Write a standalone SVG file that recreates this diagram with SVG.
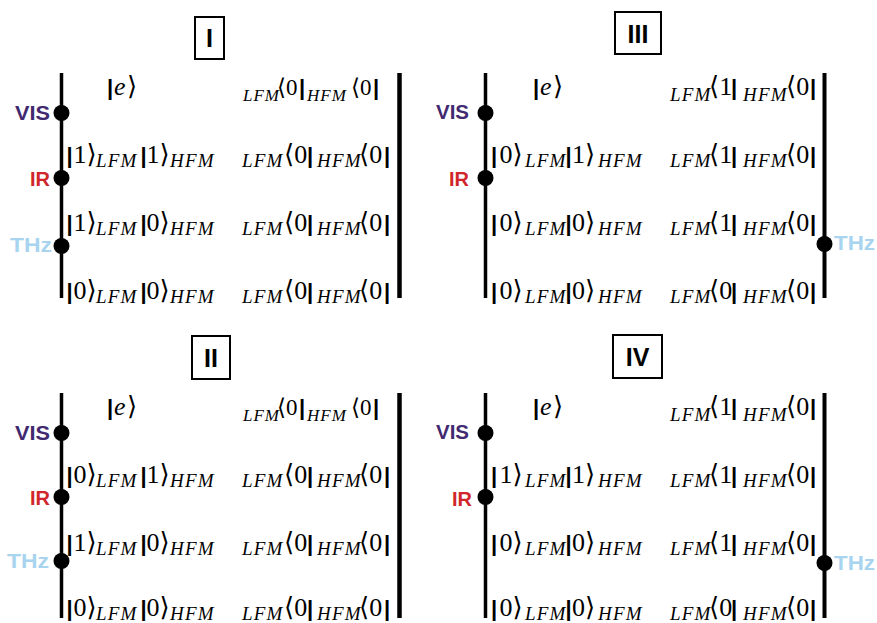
<svg xmlns="http://www.w3.org/2000/svg" width="877" height="623" viewBox="0 0 877 623">
<style>
.bg{fill:#fff}
.ln{stroke:#000;stroke-width:3.5;fill:none}
.lnr{stroke:#000;stroke-width:4.5;fill:none}
.lnt{stroke:#000;stroke-width:4;fill:none}
.dot{fill:#000}
.box{fill:none;stroke:#000;stroke-width:2}
.ttl{font-family:"Liberation Sans",Arial,sans-serif;font-weight:bold;font-size:25px;text-anchor:middle;fill:#000}
.m{font-family:"Liberation Serif","DejaVu Serif",serif;font-size:26px;fill:#000}
.m1{font-size:23px}
.s{font-style:italic;font-size:19px;letter-spacing:1.2px}
.s1{font-style:italic;font-size:17px;letter-spacing:1px}
.i{font-style:italic}
.b{font-family:"Liberation Sans",Arial,sans-serif;font-weight:bold;font-size:22px}
.lbl{font-family:"Liberation Sans",Arial,sans-serif;font-weight:bold;font-size:20px}
.vis{fill:#412a6f}
.ir{fill:#d0262c}
.thz{fill:#a9d4ef}
</style>
<rect class="bg" x="0" y="0" width="877" height="623"/>

<g id="connectors">
  <line class="ln" x1="61.5" y1="73" x2="61.5" y2="298"/>
  <line class="lnr" x1="399.5" y1="73" x2="399.5" y2="298"/>
  <line class="ln" x1="61.5" y1="393" x2="61.5" y2="618"/>
  <line class="lnr" x1="399.5" y1="393" x2="399.5" y2="618"/>
  <line class="ln" x1="485.5" y1="73" x2="485.5" y2="298"/>
  <line class="lnt" x1="824.5" y1="73" x2="824.5" y2="298"/>
  <line class="ln" x1="485.5" y1="393" x2="485.5" y2="618"/>
  <line class="lnt" x1="824.5" y1="393" x2="824.5" y2="618"/>
</g>

<!-- Panel I -->
<g id="panel-I">
  <rect class="box" x="195" y="17" width="29" height="42"/>
  <text class="ttl" x="209.5" y="47">I</text>
  <circle class="dot" cx="61.5" cy="113" r="8"/>
  <circle class="dot" cx="61.5" cy="178" r="8"/>
  <circle class="dot" cx="61.5" cy="246" r="8"/>
  <text class="lbl vis" x="15" y="120" textLength="35" lengthAdjust="spacingAndGlyphs">VIS</text>
  <text class="lbl ir" x="30" y="186">IR</text>
  <text class="lbl thz" x="10" y="252" textLength="42" lengthAdjust="spacingAndGlyphs">THz</text>
  <text class="m"><tspan class="b" x="107" y="95">|</tspan><tspan class="i" x="114" y="95">e</tspan><tspan x="127" y="95">⟩</tspan></text>
  <text class="m m1"><tspan class="s1" x="243" y="101">LFM</tspan><tspan x="277" y="95">⟨0</tspan><tspan class="b" x="299" y="95">|</tspan><tspan class="s1" x="307" y="101">HFM</tspan><tspan x="351" y="95">⟨0</tspan><tspan class="b" x="373" y="95">|</tspan></text>
  <text class="m"><tspan class="b" x="66.5" y="163">|</tspan><tspan x="73.5" y="163">1⟩</tspan><tspan class="s" x="96" y="167">LFM</tspan><tspan class="b" x="140.5" y="163">|</tspan><tspan x="146.5" y="163">1⟩</tspan><tspan class="s" x="170" y="167">HFM</tspan></text>
  <text class="m"><tspan class="s" x="242" y="167">LFM</tspan><tspan x="284" y="163">⟨0</tspan><tspan class="b" x="307" y="163">|</tspan><tspan class="s" x="317" y="167">HFM</tspan><tspan x="359" y="163">⟨0</tspan><tspan class="b" x="384" y="163">|</tspan></text>
  <text class="m"><tspan class="b" x="66.5" y="231">|</tspan><tspan x="73.5" y="231">1⟩</tspan><tspan class="s" x="96" y="235">LFM</tspan><tspan class="b" x="140.5" y="231">|</tspan><tspan x="146.5" y="231">0⟩</tspan><tspan class="s" x="170" y="235">HFM</tspan></text>
  <text class="m"><tspan class="s" x="242" y="235">LFM</tspan><tspan x="284" y="231">⟨0</tspan><tspan class="b" x="307" y="231">|</tspan><tspan class="s" x="317" y="235">HFM</tspan><tspan x="359" y="231">⟨0</tspan><tspan class="b" x="384" y="231">|</tspan></text>
  <text class="m"><tspan class="b" x="66.5" y="299">|</tspan><tspan x="73.5" y="299">0⟩</tspan><tspan class="s" x="96" y="303">LFM</tspan><tspan class="b" x="140.5" y="299">|</tspan><tspan x="146.5" y="299">0⟩</tspan><tspan class="s" x="170" y="303">HFM</tspan></text>
  <text class="m"><tspan class="s" x="242" y="303">LFM</tspan><tspan x="284" y="299">⟨0</tspan><tspan class="b" x="307" y="299">|</tspan><tspan class="s" x="317" y="303">HFM</tspan><tspan x="359" y="299">⟨0</tspan><tspan class="b" x="384" y="299">|</tspan></text>
</g>

<!-- Panel II -->
<g id="panel-II">
  <rect class="box" x="192" y="336" width="38" height="43"/>
  <text class="ttl" x="211" y="367">II</text>
  <circle class="dot" cx="61.5" cy="433" r="8"/>
  <circle class="dot" cx="61.5" cy="497" r="8"/>
  <circle class="dot" cx="61.5" cy="561" r="8"/>
  <text class="lbl vis" x="15" y="440" textLength="35" lengthAdjust="spacingAndGlyphs">VIS</text>
  <text class="lbl ir" x="30" y="505">IR</text>
  <text class="lbl thz" x="7" y="568" textLength="42" lengthAdjust="spacingAndGlyphs">THz</text>
  <text class="m"><tspan class="b" x="107" y="415">|</tspan><tspan class="i" x="114" y="415">e</tspan><tspan x="127" y="415">⟩</tspan></text>
  <text class="m m1"><tspan class="s1" x="243" y="421">LFM</tspan><tspan x="277" y="415">⟨0</tspan><tspan class="b" x="299" y="415">|</tspan><tspan class="s1" x="307" y="421">HFM</tspan><tspan x="351" y="415">⟨0</tspan><tspan class="b" x="373" y="415">|</tspan></text>
  <text class="m"><tspan class="b" x="66.5" y="483">|</tspan><tspan x="73.5" y="483">0⟩</tspan><tspan class="s" x="96" y="487">LFM</tspan><tspan class="b" x="140.5" y="483">|</tspan><tspan x="146.5" y="483">1⟩</tspan><tspan class="s" x="170" y="487">HFM</tspan></text>
  <text class="m"><tspan class="s" x="242" y="487">LFM</tspan><tspan x="284" y="483">⟨0</tspan><tspan class="b" x="307" y="483">|</tspan><tspan class="s" x="317" y="487">HFM</tspan><tspan x="359" y="483">⟨0</tspan><tspan class="b" x="384" y="483">|</tspan></text>
  <text class="m"><tspan class="b" x="66.5" y="551">|</tspan><tspan x="73.5" y="551">1⟩</tspan><tspan class="s" x="96" y="555">LFM</tspan><tspan class="b" x="140.5" y="551">|</tspan><tspan x="146.5" y="551">0⟩</tspan><tspan class="s" x="170" y="555">HFM</tspan></text>
  <text class="m"><tspan class="s" x="242" y="555">LFM</tspan><tspan x="284" y="551">⟨0</tspan><tspan class="b" x="307" y="551">|</tspan><tspan class="s" x="317" y="555">HFM</tspan><tspan x="359" y="551">⟨0</tspan><tspan class="b" x="384" y="551">|</tspan></text>
  <text class="m"><tspan class="b" x="66.5" y="616">|</tspan><tspan x="73.5" y="616">0⟩</tspan><tspan class="s" x="96" y="620">LFM</tspan><tspan class="b" x="140.5" y="616">|</tspan><tspan x="146.5" y="616">0⟩</tspan><tspan class="s" x="170" y="620">HFM</tspan></text>
  <text class="m"><tspan class="s" x="242" y="620">LFM</tspan><tspan x="284" y="616">⟨0</tspan><tspan class="b" x="307" y="616">|</tspan><tspan class="s" x="317" y="620">HFM</tspan><tspan x="359" y="616">⟨0</tspan><tspan class="b" x="384" y="616">|</tspan></text>
</g>

<!-- Panel III -->
<g id="panel-III">
  <rect class="box" x="615" y="12" width="46" height="42"/>
  <text class="ttl" x="638" y="43">III</text>
  <circle class="dot" cx="485.5" cy="113" r="8"/>
  <circle class="dot" cx="485.5" cy="178" r="8"/>
  <circle class="dot" cx="824.5" cy="244" r="8"/>
  <text class="lbl vis" x="436" y="119" textLength="33" lengthAdjust="spacingAndGlyphs">VIS</text>
  <text class="lbl ir" x="449" y="186">IR</text>
  <text class="lbl thz" x="834" y="250" textLength="41" lengthAdjust="spacingAndGlyphs">THz</text>
  <text class="m"><tspan class="b" x="533" y="95">|</tspan><tspan class="i" x="540" y="95">e</tspan><tspan x="553" y="95">⟩</tspan></text>
  <text class="m"><tspan class="s" x="670" y="101">LFM</tspan><tspan x="709" y="95">⟨1</tspan><tspan class="b" x="731" y="95">|</tspan><tspan class="s" x="743" y="101">HFM</tspan><tspan x="786" y="95">⟨0</tspan><tspan class="b" x="810" y="95">|</tspan></text>
  <text class="m"><tspan class="b" x="491" y="163">|</tspan><tspan x="499.5" y="163">0⟩</tspan><tspan class="s" x="525" y="167">LFM</tspan><tspan class="b" x="565.5" y="163">|</tspan><tspan x="572" y="163">1⟩</tspan><tspan class="s" x="598" y="167">HFM</tspan></text>
  <text class="m"><tspan class="s" x="670" y="167">LFM</tspan><tspan x="709" y="163">⟨1</tspan><tspan class="b" x="731" y="163">|</tspan><tspan class="s" x="743" y="167">HFM</tspan><tspan x="786" y="163">⟨0</tspan><tspan class="b" x="810" y="163">|</tspan></text>
  <text class="m"><tspan class="b" x="491" y="231">|</tspan><tspan x="499.5" y="231">0⟩</tspan><tspan class="s" x="525" y="235">LFM</tspan><tspan class="b" x="565.5" y="231">|</tspan><tspan x="572" y="231">0⟩</tspan><tspan class="s" x="598" y="235">HFM</tspan></text>
  <text class="m"><tspan class="s" x="670" y="235">LFM</tspan><tspan x="709" y="231">⟨1</tspan><tspan class="b" x="731" y="231">|</tspan><tspan class="s" x="743" y="235">HFM</tspan><tspan x="786" y="231">⟨0</tspan><tspan class="b" x="810" y="231">|</tspan></text>
  <text class="m"><tspan class="b" x="491" y="299">|</tspan><tspan x="499.5" y="299">0⟩</tspan><tspan class="s" x="525" y="303">LFM</tspan><tspan class="b" x="565.5" y="299">|</tspan><tspan x="572" y="299">0⟩</tspan><tspan class="s" x="598" y="303">HFM</tspan></text>
  <text class="m"><tspan class="s" x="670" y="303">LFM</tspan><tspan x="709" y="299">⟨0</tspan><tspan class="b" x="731" y="299">|</tspan><tspan class="s" x="743" y="303">HFM</tspan><tspan x="786" y="299">⟨0</tspan><tspan class="b" x="810" y="299">|</tspan></text>
</g>

<!-- Panel IV -->
<g id="panel-IV">
  <rect class="box" x="613" y="335" width="49" height="43"/>
  <text class="ttl" x="637.5" y="366">IV</text>
  <circle class="dot" cx="485.5" cy="433" r="8"/>
  <circle class="dot" cx="485.5" cy="497" r="8"/>
  <circle class="dot" cx="824.5" cy="563" r="8"/>
  <text class="lbl vis" x="436" y="439" textLength="33" lengthAdjust="spacingAndGlyphs">VIS</text>
  <text class="lbl ir" x="452" y="506">IR</text>
  <text class="lbl thz" x="834" y="570" textLength="41" lengthAdjust="spacingAndGlyphs">THz</text>
  <text class="m"><tspan class="b" x="533" y="415">|</tspan><tspan class="i" x="540" y="415">e</tspan><tspan x="553" y="415">⟩</tspan></text>
  <text class="m"><tspan class="s" x="670" y="421">LFM</tspan><tspan x="709" y="415">⟨1</tspan><tspan class="b" x="731" y="415">|</tspan><tspan class="s" x="743" y="421">HFM</tspan><tspan x="786" y="415">⟨0</tspan><tspan class="b" x="810" y="415">|</tspan></text>
  <text class="m"><tspan class="b" x="491" y="483">|</tspan><tspan x="499.5" y="483">1⟩</tspan><tspan class="s" x="525" y="487">LFM</tspan><tspan class="b" x="565.5" y="483">|</tspan><tspan x="572" y="483">1⟩</tspan><tspan class="s" x="598" y="487">HFM</tspan></text>
  <text class="m"><tspan class="s" x="670" y="487">LFM</tspan><tspan x="709" y="483">⟨1</tspan><tspan class="b" x="731" y="483">|</tspan><tspan class="s" x="743" y="487">HFM</tspan><tspan x="786" y="483">⟨0</tspan><tspan class="b" x="810" y="483">|</tspan></text>
  <text class="m"><tspan class="b" x="491" y="551">|</tspan><tspan x="499.5" y="551">0⟩</tspan><tspan class="s" x="525" y="555">LFM</tspan><tspan class="b" x="565.5" y="551">|</tspan><tspan x="572" y="551">0⟩</tspan><tspan class="s" x="598" y="555">HFM</tspan></text>
  <text class="m"><tspan class="s" x="670" y="555">LFM</tspan><tspan x="709" y="551">⟨1</tspan><tspan class="b" x="731" y="551">|</tspan><tspan class="s" x="743" y="555">HFM</tspan><tspan x="786" y="551">⟨0</tspan><tspan class="b" x="810" y="551">|</tspan></text>
  <text class="m"><tspan class="b" x="491" y="616">|</tspan><tspan x="499.5" y="616">0⟩</tspan><tspan class="s" x="525" y="620">LFM</tspan><tspan class="b" x="565.5" y="616">|</tspan><tspan x="572" y="616">0⟩</tspan><tspan class="s" x="598" y="620">HFM</tspan></text>
  <text class="m"><tspan class="s" x="670" y="620">LFM</tspan><tspan x="709" y="616">⟨0</tspan><tspan class="b" x="731" y="616">|</tspan><tspan class="s" x="743" y="620">HFM</tspan><tspan x="786" y="616">⟨0</tspan><tspan class="b" x="810" y="616">|</tspan></text>
</g>
</svg>
